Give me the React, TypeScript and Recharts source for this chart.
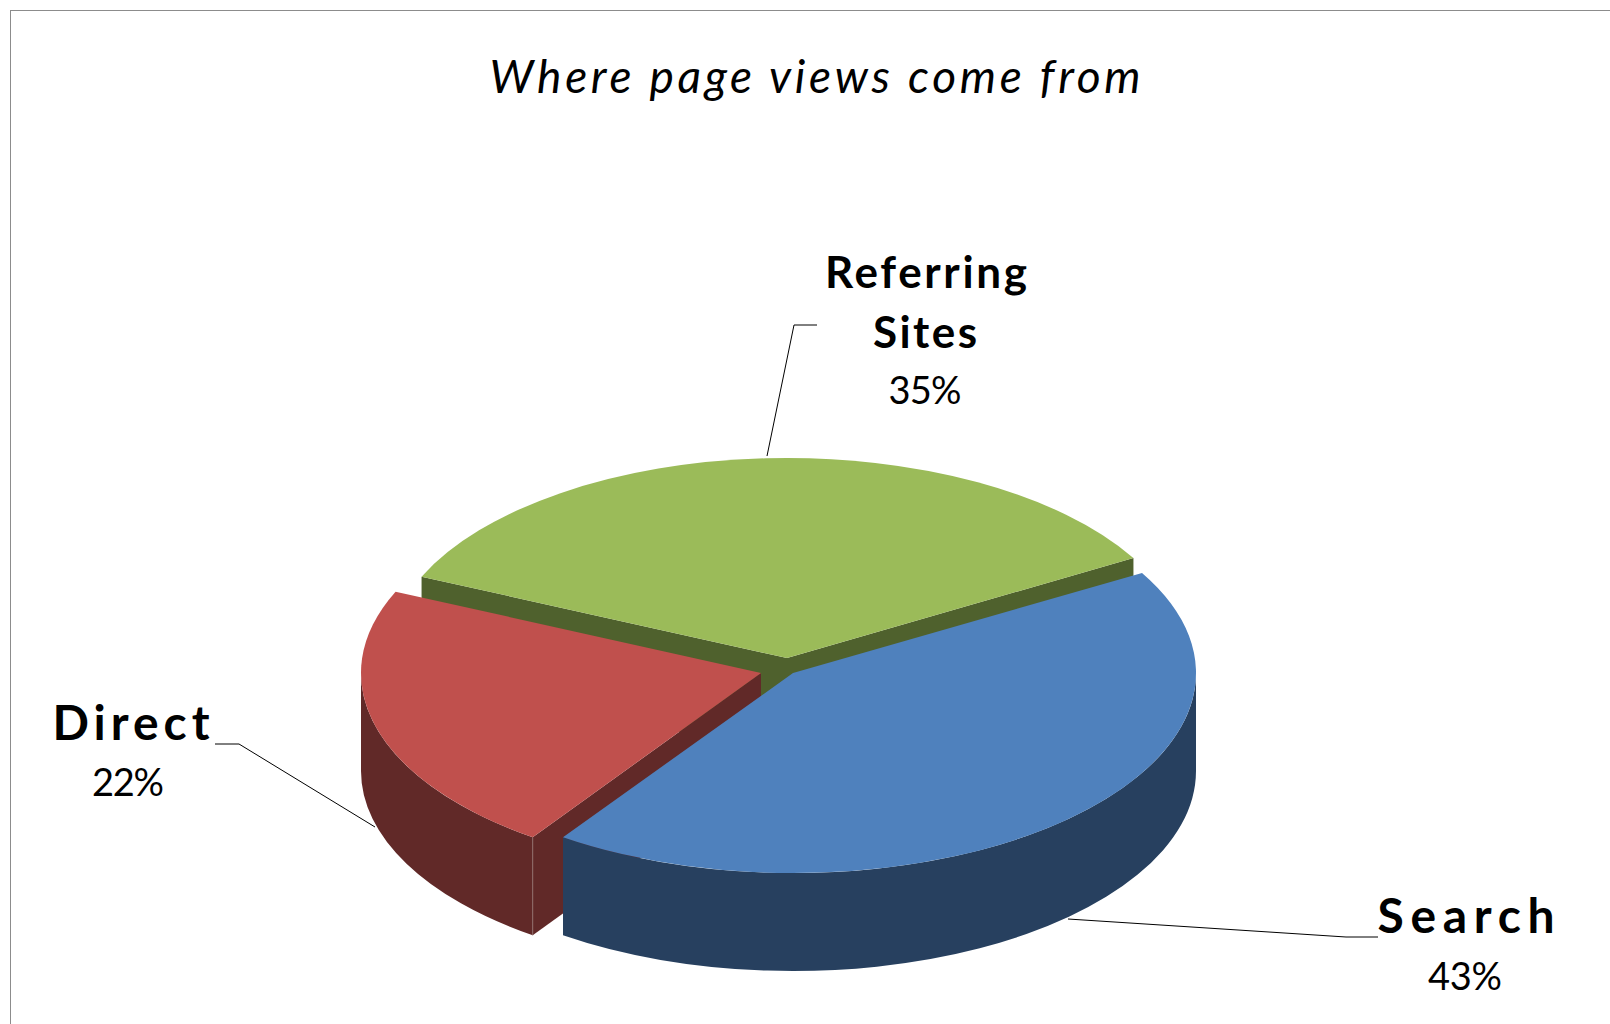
import { PieChart, Pie } from "recharts";

const categories = ["Referring Sites", "Direct", "Search"];
const shares = [35, 22, 43];
const data = categories.map((name, i) => ({ name, value: shares[i] }));

const TITLE = "Where page views come from";
const CX = 785;
const CY = 665;
const RADIUS = 400;
const TILT = 0.5;
const DEPTH = 98;

const topColors: Record<string, string> = {
  "Referring Sites": "#9BBB59",
  Direct: "#C0504D",
  Search: "#4F81BD",
};
const sideColors: Record<string, string> = {
  "Referring Sites": "#4F612D",
  Direct: "#612928",
  Search: "#27405F",
};
// how far each slice is pulled out of the pie
const explode: Record<string, { dx: number; dy: number; dr: number }> = {
  "Referring Sites": { dx: 2, dy: -7, dr: 0 },
  Direct: { dx: -24, dy: 8, dr: 0 },
  Search: { dx: 8, dy: 8, dr: 3 },
};

type LabelSpec = {
  lines: { text: string; x: number; y: number; width: number; size: number; bold: boolean }[];
  leader: string;
};
const labelSpecs: Record<string, LabelSpec> = {
  "Referring Sites": {
    lines: [
      { text: "Referring", x: 926, y: 288, width: 202, size: 44, bold: true },
      { text: "Sites", x: 925, y: 348, width: 104, size: 44, bold: true },
      { text: "%", x: 925, y: 404, width: 73, size: 38, bold: false },
    ],
    leader: "M817 325 L794 325 L767 456",
  },
  Direct: {
    lines: [
      { text: "Direct", x: 131, y: 740, width: 157, size: 48, bold: true },
      { text: "%", x: 128, y: 796, width: 72, size: 38, bold: false },
    ],
    leader: "M215 744 L239 744 L375 827",
  },
  Search: {
    lines: [
      { text: "Search", x: 1466, y: 933, width: 177, size: 48, bold: true },
      { text: "%", x: 1465, y: 990, width: 74, size: 38, bold: false },
    ],
    leader: "M1378 937 L1346 937 L1068 919",
  },
};

const rad = (a: number) => (a * Math.PI) / 180;

function Slice(props: any) {
  const { name, startAngle, endAngle, outerRadius, cx, cy } = props;
  const off = explode[name];
  const x0 = cx + off.dx;
  const y0 = cy + off.dy;
  const rx = outerRadius + off.dr;
  const ry = outerRadius * TILT;
  const pt = (a: number) => [x0 + rx * Math.cos(rad(a)), y0 - ry * Math.sin(rad(a))];
  const [sx, sy] = pt(startAngle);
  const [ex, ey] = pt(endAngle);
  const large = endAngle - startAngle > 180 ? 1 : 0;
  const side = sideColors[name];

  // outer wall only shows on the front half of the ellipse
  const a0 = Math.max(startAngle, 180);
  const a1 = Math.min(endAngle, 360);
  let wall = "";
  if (a1 > a0) {
    const [ax, ay] = pt(a0);
    const [bx, by] = pt(a1);
    wall = `M${ax} ${ay} A${rx} ${ry} 0 0 0 ${bx} ${by} L${bx} ${by + DEPTH} A${rx} ${ry} 0 0 1 ${ax} ${ay + DEPTH} Z`;
  }
  const face = (px: number, py: number) =>
    `M${x0} ${y0} L${px} ${py} L${px} ${py + DEPTH} L${x0} ${y0 + DEPTH} Z`;

  return (
    <g>
      {Math.cos(rad(startAngle)) > 0 && <path d={face(sx, sy)} fill={side} />}
      {Math.cos(rad(endAngle)) < 0 && <path d={face(ex, ey)} fill={side} />}
      {wall && <path d={wall} fill={side} />}
      {name === "Direct" && (
        <line x1={ex} y1={ey} x2={ex} y2={ey + DEPTH} stroke="#8F6B6A" strokeWidth={1} />
      )}
      <path
        d={`M${x0} ${y0} L${sx} ${sy} A${rx} ${ry} 0 ${large} 0 ${ex} ${ey} Z`}
        fill={topColors[name]}
      />
    </g>
  );
}

function SliceLabel(props: any) {
  const spec = labelSpecs[props.name];
  return (
    <g>
      <path d={spec.leader} fill="none" stroke="#000000" strokeWidth={1} />
      {spec.lines.map((l) => (
        <text
          key={l.text}
          x={l.x}
          y={l.y}
          textAnchor="middle"
          textLength={l.width}
          lengthAdjust="spacing"
          fontFamily="Lato"
          fontSize={l.size}
          fontWeight={l.bold ? 700 : 400}
          fill="#000000"
        >
          {l.text === "%" ? `${props.value}%` : l.text}
        </text>
      ))}
    </g>
  );
}

export default function App() {
  return (
    <div
      style={{
        position: "fixed",
        left: 0,
        top: 0,
        width: 1610,
        height: 1024,
        overflow: "hidden",
        background: "#ffffff",
      }}
    >
      <div
        style={{
          position: "absolute",
          left: 10,
          top: 10,
          width: 1700,
          height: 1100,
          borderLeft: "1px solid #8C8C8C",
          borderTop: "1px solid #8C8C8C",
        }}
      />
      <div style={{ position: "absolute", left: 0, top: 0 }}>
        <PieChart width={1610} height={1024} margin={{ top: 0, right: 0, bottom: 0, left: 0 }}>
          <text
            x={815}
            y={93}
            textAnchor="middle"
            textLength={651}
            lengthAdjust="spacing"
            fontFamily="Lato"
            fontStyle="italic"
            fontSize={46}
            fill="#000000"
          >
            {TITLE}
          </text>
          <Pie
            data={data}
            dataKey="value"
            nameKey="name"
            cx={CX}
            cy={CY}
            innerRadius={0}
            outerRadius={RADIUS}
            startAngle={30}
            endAngle={390}
            stroke="none"
            shape={Slice}
            activeShape={Slice}
            inactiveShape={Slice}
            label={SliceLabel}
            labelLine={false}
            isAnimationActive={false}
          />
        </PieChart>
      </div>
    </div>
  );
}
